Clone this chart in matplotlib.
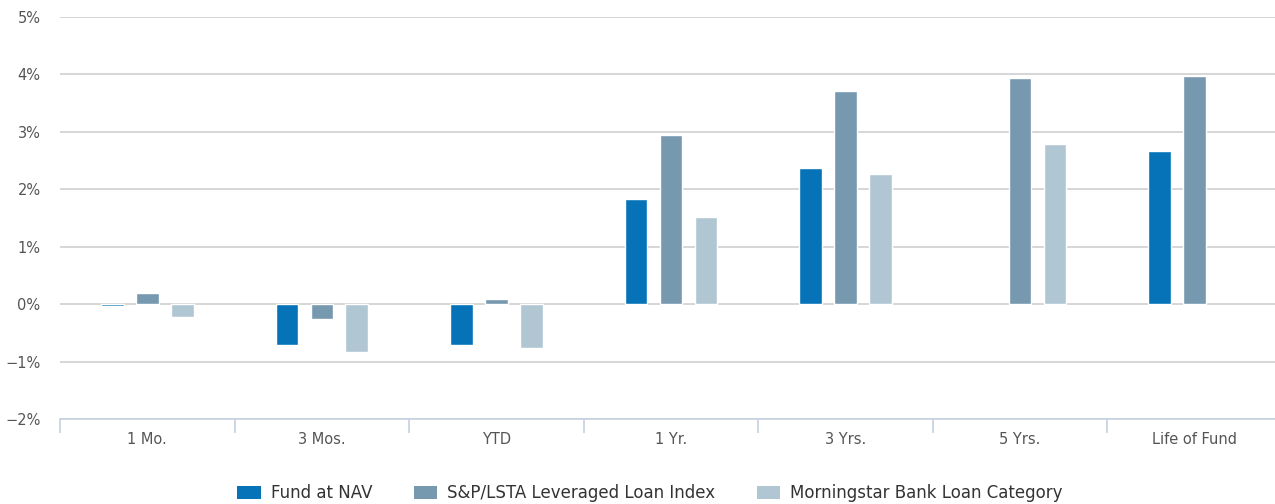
import numpy as np
import matplotlib
matplotlib.use("Agg")
import matplotlib.pyplot as plt
from matplotlib.patches import Patch

categories = ["1 Mo.", "3 Mos.", "YTD", "1 Yr.", "3 Yrs.", "5 Yrs.", "Life of Fund"]
fund_nav = [-0.03, -0.72, -0.72, 1.83, 2.37, np.nan, 2.67]
loan_index = [0.20, -0.26, 0.09, 2.94, 3.72, 3.94, 3.98]
bank_loan_cat = [-0.22, -0.83, -0.77, 1.52, 2.26, 2.78, np.nan]
series_names = ["Fund at NAV", "S&P/LSTA Leveraged Loan Index", "Morningstar Bank Loan Category"]
y_ticks = [-2, -1, 0, 1, 2, 3, 4, 5]

colors = ["#0673b9", "#7699af", "#b0c7d3"]
text_color = "#555555"

plt.rcParams["font.family"] = ["DejaVu Sans"]

W, H = 1275, 504
fig = plt.figure(figsize=(W / 100, H / 100), dpi=100)
left, right = 60 / W, 1282 / W
top, bottom = 17 / H, 419 / H
ax = fig.add_axes([left, 1 - bottom, right - left, bottom - top])

x = np.arange(len(categories))
offset, width = 0.2, 0.13
for i, (vals, c) in enumerate(zip([fund_nav, loan_index, bank_loan_cat], colors)):
    ax.bar(x + (i - 1) * offset, vals, width, color=c, edgecolor="white",
           linewidth=1, zorder=3)

ax.set_xlim(-0.5, len(categories) - 0.5)
ax.set_ylim(-2, 5)
ax.set_yticks(y_ticks)
ax.set_yticklabels([f"{t}%".replace("-", "\u2212") for t in y_ticks])
ax.yaxis.grid(True, color="#cccccc", linewidth=1.1, zorder=1)
ax.tick_params(axis="y", length=0, pad=14, labelsize=10.5, labelcolor=text_color)

ax.set_xticks(x)
ax.set_xticklabels(categories)
ax.tick_params(axis="x", length=0, pad=9, labelsize=10.5, labelcolor=text_color)
ax.set_xticks(np.arange(len(categories) + 1) - 0.5, minor=True)
ax.tick_params(axis="x", which="minor", length=10, width=1.2, color="#c4d2e0")

for s in ["top", "right", "left"]:
    ax.spines[s].set_visible(False)
ax.spines["bottom"].set_color("#c4d2e0")
ax.spines["bottom"].set_linewidth(1.2)
ax.set_axisbelow(True)

handles = [Patch(facecolor=c, edgecolor="none") for c in colors]
fig.legend(handles, series_names, loc="center", bbox_to_anchor=(650 / W, 1 - 493 / H),
           ncol=3, frameon=False, fontsize=12, labelcolor="#333333",
           handlelength=1.4, handleheight=0.8, handletextpad=0.6, columnspacing=2.5)

fig.savefig("out.png", dpi=100)
